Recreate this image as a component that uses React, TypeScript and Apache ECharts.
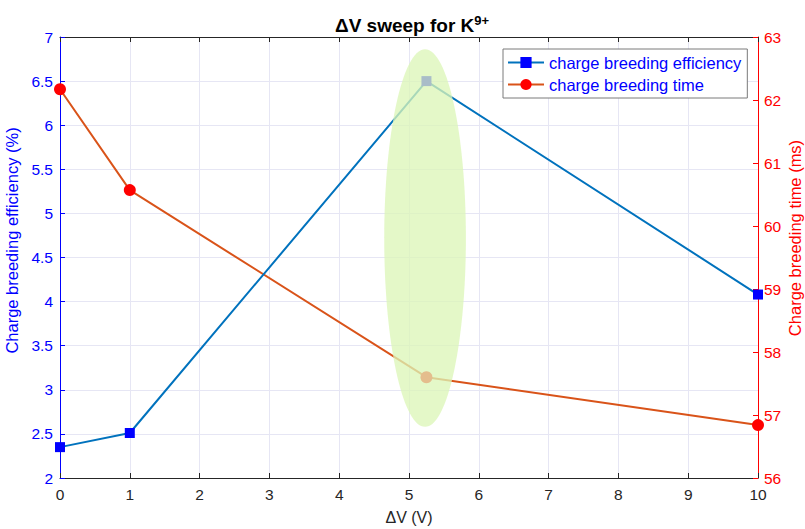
import React, { useEffect, useRef } from "react";
import * as echarts from "echarts";

const xValues = [0, 1, 5.25, 10];
const efficiency = [2.35, 2.51, 6.5, 4.08];
const breedingTime = [62.17, 60.57, 57.6, 56.84];
// highlighted region (data coordinates): center x, center y (left axis), half-width, half-height
const highlight = { cx: 5.23, cy: 4.72, rx: 0.585, ry: 2.14 };
const rightAxisTitle = "Charge breeding time (ms)";

const FONT = "Liberation Sans, Arial, Helvetica, sans-serif";

export default function App() {
  const ref = useRef<HTMLDivElement>(null);
  useEffect(() => {
    document.body.style.margin = "0";
    const chart = echarts.init(ref.current!, null, { renderer: "svg" });
    const gridLine = { show: true, lineStyle: { color: "#e6e6f4", width: 1 } };
    chart.setOption({
      animation: false,
      backgroundColor: "#ffffff",
      title: {
        text: "ΔV sweep for K{sup|9+}",
        left: 330,
        top: 9,
        textStyle: {
          fontFamily: FONT,
          fontSize: 19,
          fontWeight: "bold",
          color: "#000",
          rich: {
            sup: { fontFamily: FONT, fontSize: 13, fontWeight: "bold", verticalAlign: "top", padding: [0, 0, 10, 0], color: "#000" },
          },
        },
      },
      legend: {
        left: 503,
        top: 49,
        orient: "vertical",
        backgroundColor: "#fff",
        borderColor: "#7a7a7a",
        borderWidth: 1,
        borderRadius: 0,
        padding: [5, 6, 5, 4],
        itemGap: 5,
        itemWidth: 36,
        itemHeight: 14,
        textStyle: { fontFamily: FONT, fontSize: 16.5, color: "#0000ff" },
        data: ["charge breeding efficiency", "charge breeding time"],
      },
      grid: { left: 60, right: 47, top: 37, bottom: 51, containLabel: false, outerBoundsMode: "none" },
      xAxis: [
        {
          type: "value",
          min: 0,
          max: 10,
          interval: 1,
          name: "ΔV (V)",
          nameLocation: "middle",
          nameGap: 31,
          nameTextStyle: { fontFamily: FONT, fontSize: 16, color: "#262626" },
          axisLine: { show: true, onZero: false, lineStyle: { color: "#262626", width: 1 } },
          axisTick: { show: true, inside: true, length: 5, lineStyle: { color: "#262626" } },
          axisLabel: { fontFamily: FONT, fontSize: 15.5, color: "#262626", margin: 8 },
          splitLine: gridLine,
        },
        {
          type: "value",
          position: "top",
          min: 0,
          max: 10,
          interval: 1,
          axisLine: { show: true, onZero: false, lineStyle: { color: "#262626", width: 1 } },
          axisTick: { show: true, inside: true, length: 5, lineStyle: { color: "#262626" } },
          axisLabel: { show: false },
          splitLine: { show: false },
        },
      ],
      yAxis: [
        {
          type: "value",
          min: 2,
          max: 7,
          interval: 0.5,
          position: "left",
          name: "Charge breeding efficiency (%)",
          nameLocation: "middle",
          nameGap: 30,
          nameTextStyle: { fontFamily: FONT, fontSize: 16.5, color: "#0000ff", padding: [0, 0, 0, 34] },
          axisLine: { show: true, onZero: false, lineStyle: { color: "#0000ff", width: 1 } },
          axisTick: { show: true, inside: true, length: 5, lineStyle: { color: "#0000ff" } },
          axisLabel: { fontFamily: FONT, fontSize: 15.5, color: "#0000ff", margin: 7 },
          splitLine: gridLine,
        },
        {
          type: "value",
          min: 56,
          max: 63,
          interval: 1,
          position: "right",
          axisLine: { show: true, onZero: false, lineStyle: { color: "#ff0000", width: 1 } },
          axisTick: { show: true, inside: true, length: 5, lineStyle: { color: "#ff0000" } },
          axisLabel: { fontFamily: FONT, fontSize: 15.5, color: "#ff0000", margin: 6 },
          splitLine: { show: false },
        },
      ],
      series: [
        {
          name: "charge breeding efficiency",
          type: "line",
          xAxisIndex: 0,
          yAxisIndex: 0,
          data: xValues.map((x, i) => [x, efficiency[i]]),
          symbol: "rect",
          symbolSize: 10,
          clip: false,
          lineStyle: { color: "#0072bd", width: 2 },
          itemStyle: { color: "#0000ff" },
          z: 3,
        },
        {
          name: "charge breeding time",
          type: "line",
          xAxisIndex: 0,
          yAxisIndex: 1,
          data: xValues.map((x, i) => [x, breedingTime[i]]),
          symbol: "circle",
          symbolSize: 12,
          clip: false,
          lineStyle: { color: "#d95319", width: 2 },
          itemStyle: { color: "#ff0000" },
          z: 2,
        },
      ],
    });
    const c = chart.convertToPixel({ xAxisIndex: 0, yAxisIndex: 0 }, [highlight.cx, highlight.cy]) as number[];
    const e = chart.convertToPixel({ xAxisIndex: 0, yAxisIndex: 0 }, [highlight.cx + highlight.rx, highlight.cy + highlight.ry]) as number[];
    chart.setOption({
      graphic: [
        {
          type: "ellipse",
          z: 100,
          shape: { cx: c[0], cy: c[1], rx: Math.abs(e[0] - c[0]), ry: Math.abs(e[1] - c[1]) },
          style: { fill: "rgba(220,246,183,0.77)" },
          silent: true,
        },
        {
          type: "text",
          x: 795,
          y: 238,
          rotation: Math.PI / 2,
          silent: true,
          style: {
            text: rightAxisTitle,
            fontFamily: FONT,
            fontSize: 16.5,
            fill: "#ff0000",
            align: "center",
            verticalAlign: "middle",
          },
        },
      ],
    });
    return () => chart.dispose();
  }, []);
  return <div ref={ref} style={{ width: 805, height: 529 }} />;
}
